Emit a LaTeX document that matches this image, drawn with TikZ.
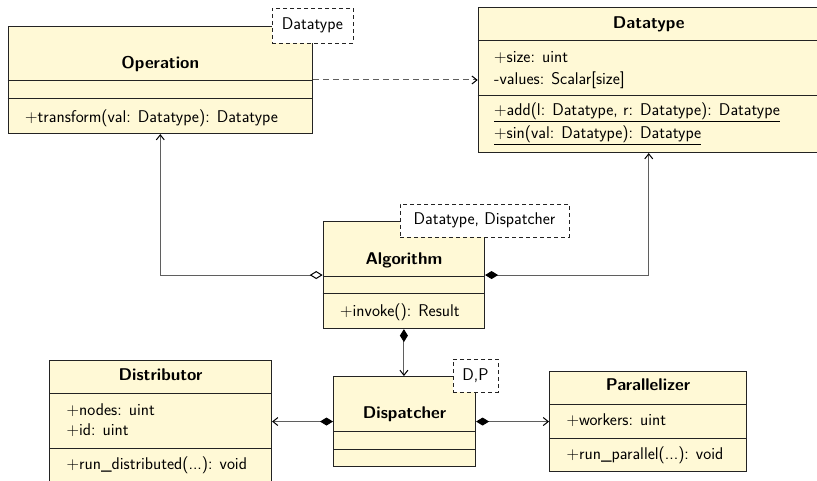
\documentclass[tikz,border=0pt]{standalone}
\usepackage{fontspec}
\usetikzlibrary{arrows.meta}
\definecolor{classfill}{RGB}{255,249,214}
\definecolor{boxline}{RGB}{35,35,35}
\definecolor{linkline}{RGB}{95,95,95}

\begin{document}
\begin{tikzpicture}[x=1pt,y=-1pt,
  font=\fontsize{17}{20}\sffamily,
  classbox/.style={draw=boxline, line width=1.1pt, fill=classfill, anchor=north west, inner sep=0pt},
  sect/.style={draw=boxline, line width=1pt},
  title/.style={font=\fontsize{17}{20}\sffamily\bfseries, anchor=base, inner sep=0pt},
  member/.style={anchor=base west, inner sep=0pt},
  tmpl/.style={draw=boxline, fill=white, dash pattern=on 4pt off 3pt, line width=0.9pt, inner sep=0pt},
  link/.style={draw=linkline, line width=1pt},
  headopen/.style={-{Straight Barb[length=5pt,width=8pt,color=black]}},
  aggr/.style={{Diamond[open,fill=white,length=13pt,width=8pt,color=black]}-{Straight Barb[length=5pt,width=8pt,color=black]}},
  comp/.style={{Diamond[length=13pt,width=8pt,color=black]}-{Straight Barb[length=5pt,width=8pt,color=black]}},
  depend/.style={dash pattern=on 6pt off 4pt},
]
\useasboundingbox (0,0) rectangle (817,481);

% ---------- class boxes ----------
\node[classbox, minimum width=304.5pt, minimum height=107pt] (op) at (7.5,26) {};
\node[classbox, minimum width=341pt, minimum height=145pt] (dt) at (477.7,7) {};
\node[classbox, minimum width=161.3pt, minimum height=107pt] (alg) at (322.7,221) {};
\node[classbox, minimum width=142pt, minimum height=90pt] (disp) at (333,376) {};
\node[classbox, minimum width=222pt, minimum height=125pt] (dist) at (49,360) {};
\node[classbox, minimum width=197pt, minimum height=100pt] (par) at (549,371) {};

% ---------- compartment separators ----------
\draw[sect] (op.west |- 0,81) -- (op.east |- 0,81);
\draw[sect] (op.west |- 0,99) -- (op.east |- 0,99);
\draw[sect] (dt.west |- 0,41) -- (dt.east |- 0,41);
\draw[sect] (dt.west |- 0,96) -- (dt.east |- 0,96);
\draw[sect] (alg.west |- 0,277) -- (alg.east |- 0,277);
\draw[sect] (alg.west |- 0,294) -- (alg.east |- 0,294);
\draw[sect] (disp.west |- 0,431) -- (disp.east |- 0,431);
\draw[sect] (disp.west |- 0,449) -- (disp.east |- 0,449);
\draw[sect] (dist.west |- 0,393) -- (dist.east |- 0,393);
\draw[sect] (dist.west |- 0,448) -- (dist.east |- 0,448);
\draw[sect] (par.west |- 0,404) -- (par.east |- 0,404);
\draw[sect] (par.west |- 0,438) -- (par.east |- 0,438);

% ---------- class names ----------
\node[title] (op-name) at (op.north |- 0,68.5) {Operation};
\node[title] (dt-name) at (dt.north |- 0,28.5) {Datatype};
\node[title] (alg-name) at (alg.north |- 0,264.5) {Algorithm};
\node[title] (disp-name) at (disp.north |- 0,418.5) {Dispatcher};
\node[title] (dist-name) at (dist.north |- 0,380.5) {Distributor};
\node[title] (par-name) at (par.north |- 0,390.5) {Parallelizer};

% ---------- members ----------
\node[member] (op-m1) at (25,122.5) {$+$transform(val: Datatype): Datatype};

\node[member] (dt-a1) at (494,62.5) {$+$size: uint};
\node[member] (dt-a2) at (494,84.5) {-values: Scalar[size]};
\node[member] (dt-m1) at (494,115.5) {\underline{$+$add(l: Datatype, r: Datatype): Datatype}};
\node[member] (dt-m2) at (494,138.5) {\underline{$+$sin(val: Datatype): Datatype}};

\node[member] (alg-m1) at (340,316.5) {$+$invoke(): Result};

\node[member] (dist-a1) at (66.5,415.5) {$+$nodes: uint};
\node[member] (dist-a2) at (66.5,435.5) {$+$id: uint};
\node[member] (dist-m1) at (66.5,469.5) {$+$run\_distributed(...): void};

\node[member] (par-a1) at (566.5,425.5) {$+$workers: uint};
\node[member] (par-m1) at (566.5,459.5) {$+$run\_parallel(...): void};

% ---------- template parameters ----------
\node[tmpl, minimum width=81pt, minimum height=35pt] (op-t) at (312.5,25.5) {Datatype};
\node[tmpl, minimum width=169pt, minimum height=33pt] (alg-t) at (484.5,220.5) {Datatype, Dispatcher};
\node[tmpl, minimum width=45pt, minimum height=33pt] (disp-t) at (475.5,375.5) {D,P};

% ---------- relations ----------
\draw[link, depend, headopen] (op.east |- 0,80) -- (dt.west |- 0,80);
\draw[link, aggr] (alg.west) -| (op.south);
\draw[link, comp] (alg.east) -| (dt.south);
\draw[link, comp] (alg.south) -- (alg.south |- disp.north);
\draw[link, comp] (disp.west) -- (disp.west -| dist.east);
\draw[link, comp] (disp.east) -- (disp.east -| par.west);
\end{tikzpicture}
\end{document}
